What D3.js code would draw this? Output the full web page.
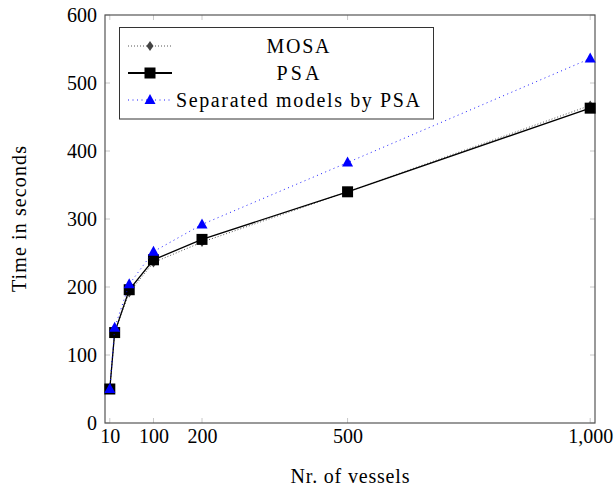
<!DOCTYPE html>
<html>
<head>
<meta charset="utf-8">
<script src="https://cdn.jsdelivr.net/npm/d3@7.9.0/dist/d3.min.js"></script>
<style>
  body { margin: 0; background: #fff; }
  svg { font-family: 'Liberation Serif', 'DejaVu Serif', serif; }
</style>
</head>
<body>
<div id="chart"></div>
<script>
const vessels = [10, 20, 50, 100, 200, 500, 1000];
const mosa = [50, 133, 192, 236, 266, 340, 467];
const psa = [50, 133, 196, 240, 270, 340, 463];
const separated = [50, 140, 204, 252, 292, 383, 536];

const xTicks = [10, 100, 200, 500, 1000];
const yTicks = [0, 100, 200, 300, 400, 500, 600];

const series = [
  { name: 'MOSA', values: mosa, color: '#444', width: 0.9, dash: '1,2', marker: 'diamond', textLen: 63 },
  { name: 'PSA', values: psa, color: '#000', width: 1.3, dash: null, marker: 'square', textLen: 43 },
  { name: 'Separated models by PSA', values: separated, color: '#0000ff', width: 0.9, dash: '1,3.5', marker: 'triangle', textLen: 244 },
];

const width = 615;
const height = 486;
const plot = { left: 105, right: 595, top: 15, bottom: 423 };
const fontSize = 20;

const svg = d3.select('#chart').append('svg')
  .attr('width', width)
  .attr('height', height);

const xScale = d3.scaleLinear().domain([0.1, 1009.9]).range([plot.left, plot.right]);
const yScale = d3.scaleLinear().domain([0, 600]).range([plot.bottom, plot.top]);

// tick marks (inside, light gray) on all four sides
const tickLen = 5;
const ticks = svg.append('g').attr('stroke', '#c8c8c8').attr('stroke-width', 1);
xTicks.forEach((t) => {
  ticks.append('line').attr('x1', xScale(t)).attr('x2', xScale(t))
    .attr('y1', plot.bottom).attr('y2', plot.bottom - tickLen);
  ticks.append('line').attr('x1', xScale(t)).attr('x2', xScale(t))
    .attr('y1', plot.top).attr('y2', plot.top + tickLen);
});
yTicks.forEach((t) => {
  ticks.append('line').attr('x1', plot.left).attr('x2', plot.left + tickLen)
    .attr('y1', yScale(t)).attr('y2', yScale(t));
  ticks.append('line').attr('x1', plot.right).attr('x2', plot.right - tickLen)
    .attr('y1', yScale(t)).attr('y2', yScale(t));
});

// axis labels via d3 axes, no tick lines
const xAxis = d3.axisBottom(xScale).tickValues(xTicks).tickFormat(d3.format(',')).tickSize(0).tickPadding(6);
const yAxis = d3.axisLeft(yScale).tickValues(yTicks).tickSize(0).tickPadding(8);

const gx = svg.append('g').attr('transform', `translate(0,${plot.bottom})`).call(xAxis);
const gy = svg.append('g').attr('transform', `translate(${plot.left},0)`).call(yAxis);
[gx, gy].forEach((g) => {
  g.select('.domain').remove();
  g.selectAll('text').attr('font-size', fontSize).attr('fill', '#000')
    .attr('font-family', "'Liberation Serif', serif");
});

// frame
svg.append('rect')
  .attr('x', plot.left).attr('y', plot.top)
  .attr('width', plot.right - plot.left).attr('height', plot.bottom - plot.top)
  .attr('fill', 'none').attr('stroke', '#555').attr('stroke-width', 1.2);

function drawMarker(g, type, x, y, color) {
  if (type === 'square') {
    g.append('rect').attr('x', x - 5.5).attr('y', y - 5.5).attr('width', 11).attr('height', 11).attr('fill', color);
  } else if (type === 'triangle') {
    g.append('path').attr('d', `M${x},${y - 6}L${x + 5.5},${y + 4}L${x - 5.5},${y + 4}Z`).attr('fill', color);
  } else {
    g.append('path').attr('d', `M${x},${y - 5}L${x + 3.5},${y}L${x},${y + 5}L${x - 3.5},${y}Z`).attr('fill', color);
  }
}

const line = d3.line().x((d) => xScale(d[0])).y((d) => yScale(d[1]));

series.forEach((s) => {
  const pts = vessels.map((v, i) => [v, s.values[i]]);
  const g = svg.append('g');
  g.append('path').attr('d', line(pts))
    .attr('fill', 'none').attr('stroke', s.color).attr('stroke-width', s.width)
    .attr('stroke-dasharray', s.dash);
  pts.forEach((p) => drawMarker(g, s.marker, xScale(p[0]), yScale(p[1]), s.color));
});

// legend
const legend = svg.append('g');
legend.append('rect').attr('x', 119.5).attr('y', 27.5).attr('width', 314).attr('height', 91.5)
  .attr('fill', '#fff').attr('stroke', '#333').attr('stroke-width', 1);
series.forEach((s, i) => {
  const y = 46 + i * 27;
  legend.append('line').attr('x1', 128).attr('x2', 172).attr('y1', y).attr('y2', y)
    .attr('stroke', s.color).attr('stroke-width', s.width === 1.3 ? 1.8 : s.width)
    .attr('stroke-dasharray', s.dash);
  drawMarker(legend, s.marker, 150, y, s.color);
  legend.append('text').attr('x', 298).attr('y', y).attr('dy', '0.33em')
    .attr('text-anchor', 'middle').attr('font-size', fontSize)
    .attr('textLength', s.textLen).attr('lengthAdjust', 'spacing').text(s.name);
});

// axis titles
svg.append('text').attr('x', (plot.left + plot.right) / 2).attr('y', 476).attr('dy', '0.33em')
  .attr('text-anchor', 'middle').attr('font-size', fontSize)
  .attr('textLength', 119).attr('lengthAdjust', 'spacing').text('Nr. of vessels');
svg.append('text').attr('transform', `translate(19,${(plot.top + plot.bottom) / 2}) rotate(-90)`)
  .attr('dy', '0.33em').attr('text-anchor', 'middle').attr('font-size', fontSize)
  .attr('textLength', 146).attr('lengthAdjust', 'spacing').text('Time in seconds');
</script>
</body>
</html>
